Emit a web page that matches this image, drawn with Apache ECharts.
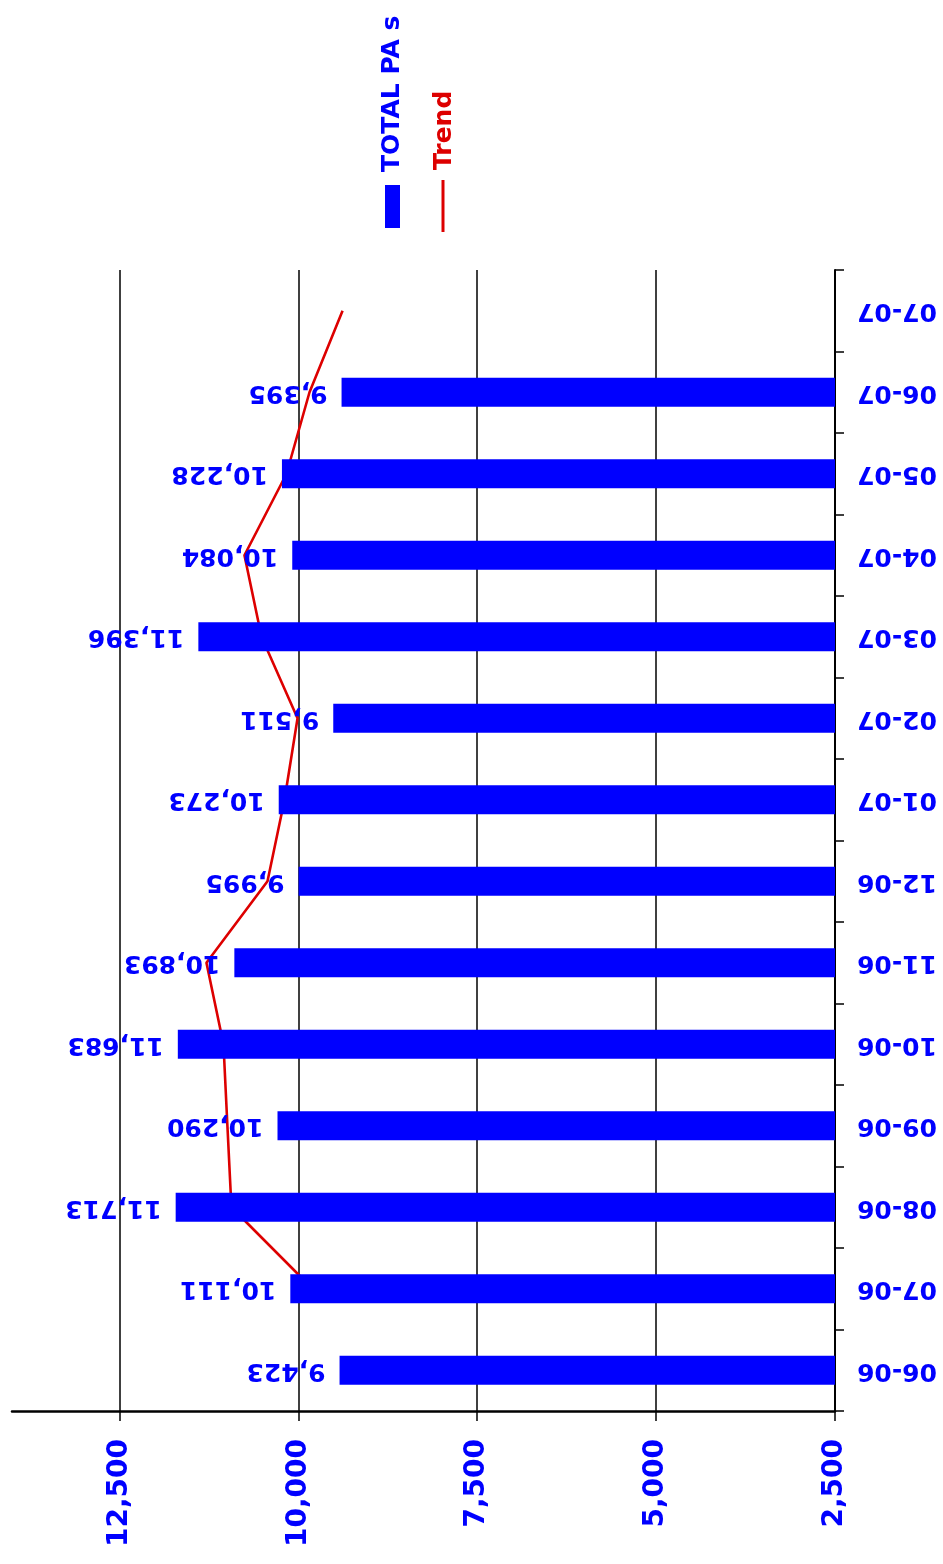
<!DOCTYPE html>
<html><head><meta charset="utf-8">
<script src="https://cdn.jsdelivr.net/npm/echarts@6/dist/echarts.min.js"></script>
<style>html,body{margin:0;padding:0;background:#fff}#c{width:943px;height:1564px}</style>
</head><body><div id="c"></div>
<script>
const categories = ['06-06','07-06','08-06','09-06','10-06','11-06','12-06','01-07','02-07','03-07','04-07','05-07','06-07','07-07'];
const totalPAs = [9423, 10111, 11713, 10290, 11683, 10893, 9995, 10273, 9511, 11396, 10084, 10228, 9395, '-'];
const trend = ['-', 9800, 10934, 10990, 11045, 11283, 10430, 10192, 10010, 10514, 10752, 10164, 9843, 9381];
const valueTicks = [2500, 5000, 7500, 10000, 12500];
const legendNames = ['TOTAL PA s', 'Trend'];

const BLUE = '#0000ff', RED = '#dd0000';
const FONT = 'DejaVu Sans';
const chart = echarts.init(document.getElementById('c'));
chart.setOption({
  animation: false,
  backgroundColor: '#fff',
  grid: { left: 12, right: 108, top: 270, bottom: 153, containLabel: false },
  xAxis: {
    type: 'value', inverse: true, min: 2500, max: 14000, interval: 2500,
    axisLine: { show: true, lineStyle: { color: '#000', width: 2.5 } },
    axisTick: { show: true, length: 10, customValues: valueTicks, lineStyle: { color: '#000', width: 1.5 } },
    axisLabel: { rotate: 90, margin: 28, color: BLUE, fontFamily: FONT, fontWeight: 'bold', fontSize: 28,
      customValues: valueTicks, formatter: v => v.toLocaleString('en-US') },
    splitLine: { show: false }
  },
  yAxis: {
    type: 'category', data: categories, position: 'right', boundaryGap: true,
    axisLine: { show: true, lineStyle: { color: '#000', width: 2 } },
    axisTick: { show: true, length: 9, lineStyle: { color: '#000', width: 1.5 } },
    axisLabel: { rotate: 180, margin: 22, color: BLUE, fontFamily: FONT, fontWeight: 'bold', fontSize: 25 },
    splitLine: { show: false }
  },
  series: [
    { name: legendNames[1], type: 'line', data: trend, z: 1, symbol: 'none', silent: true,
      lineStyle: { color: RED, width: 2.6 },
      markLine: { silent: true, symbol: 'none', label: { show: false }, z: 0,
        lineStyle: { color: '#000', width: 1.5, type: 'solid' },
        data: valueTicks.slice(1).map(v => ({ xAxis: v })) } },
    { name: legendNames[0], type: 'bar', data: totalPAs, z: 3, barWidth: 29,
      itemStyle: { color: BLUE },
      label: { show: true, position: 'left', distance: 14, rotate: 180, align: 'left', verticalAlign: 'middle',
        color: BLUE, fontFamily: FONT, fontWeight: 'bold', fontSize: 25,
        formatter: p => Number(p.value).toLocaleString('en-US') } }
  ],
  graphic: [
    { type: 'rect', shape: { x: 385, y: 185, width: 15, height: 43 }, style: { fill: BLUE } },
    { type: 'text', x: 405, y: 172, rotation: Math.PI / 2,
      style: { text: legendNames[0], fill: BLUE, font: 'bold 25px "DejaVu Sans"', textAlign: 'left', textVerticalAlign: 'bottom' } },
    { type: 'line', shape: { x1: 443, y1: 180, x2: 443, y2: 232 }, style: { stroke: RED, lineWidth: 3 } },
    { type: 'text', x: 457, y: 170, rotation: Math.PI / 2,
      style: { text: legendNames[1], fill: RED, font: 'bold 25px "DejaVu Sans"', textAlign: 'left', textVerticalAlign: 'bottom' } }
  ]
});
</script></body></html>
